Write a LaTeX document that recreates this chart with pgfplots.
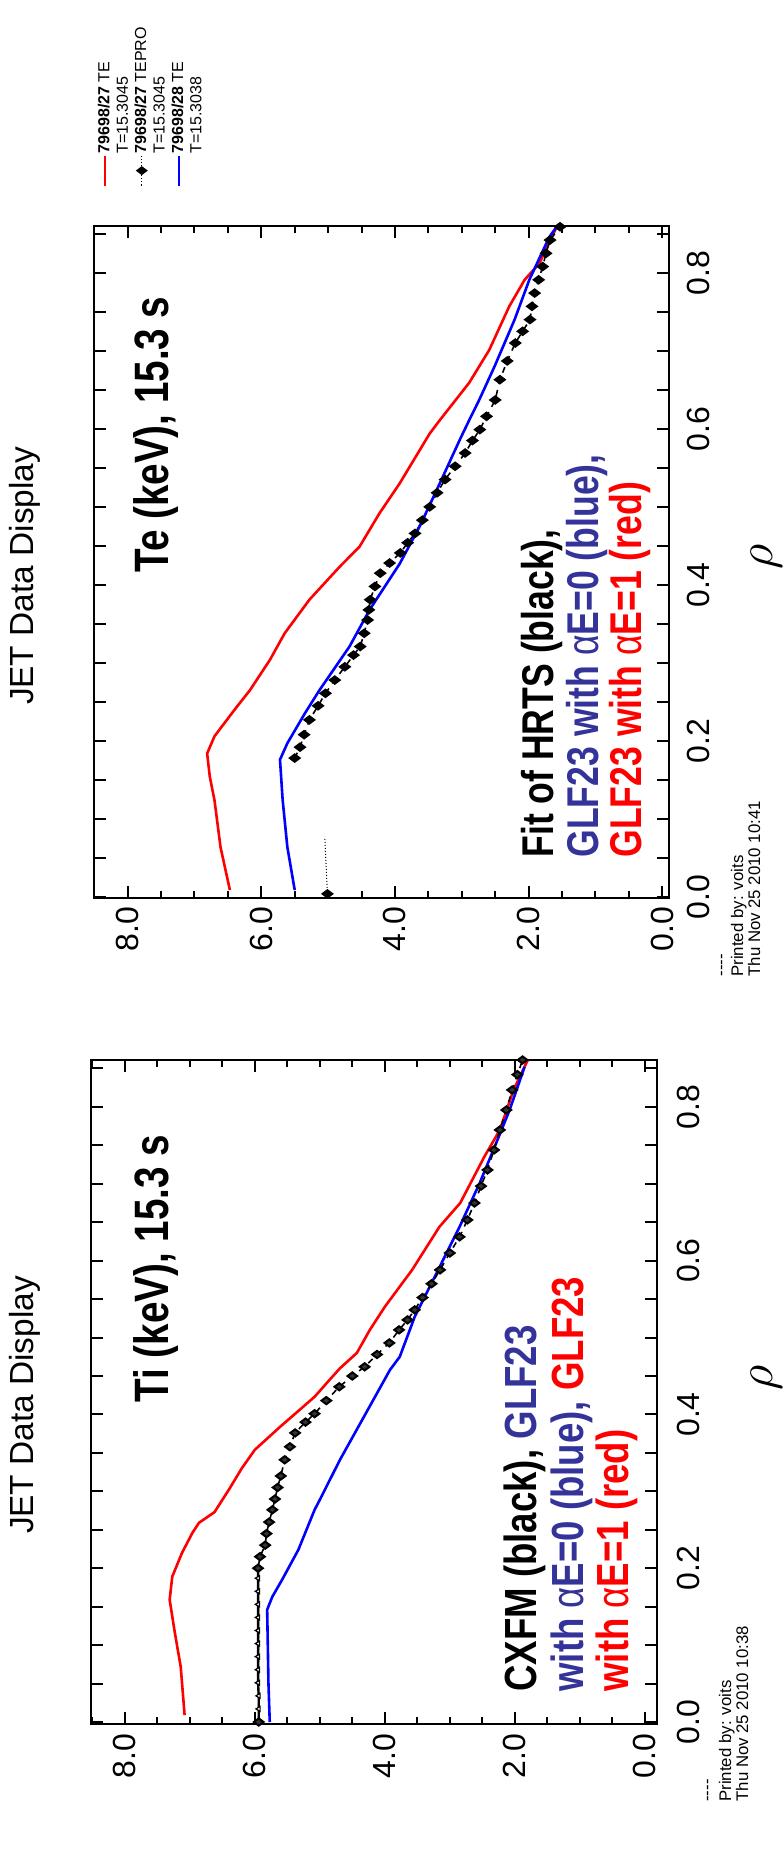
\documentclass[border=0pt]{standalone}
\usepackage{pgfplots}
\pgfplotsset{compat=1.18}
\usepackage{fontspec}
\setmainfont{Liberation Sans}
\definecolor{txtblue}{RGB}{51,51,153}
\definecolor{lnblue}{RGB}{0,0,255}
\definecolor{lnred}{RGB}{255,0,0}
\pgfplotsset{
  jet/.style={
    scale only axis, clip=false,
    axis line style={line width=1pt},
    tick style={line width=1pt, black},
    tick align=inside,
    major tick length=6pt, minor tick length=3.5pt,
    xtick={0,0.05,0.1,0.15,0.2,0.25,0.3,0.35,0.4,0.45,0.5,0.55,0.6,0.65,0.7,0.75,0.8,0.85},
    xticklabels={0.0,,,,0.2,,,,0.4,,,,0.6,,,,0.8,},
    ytick={0,2,4,6,8},
    yticklabels={0.0,2.0,4.0,6.0,8.0},
    minor ytick={0.5,1,1.5,2.5,3,3.5,4.5,5,5.5,6.5,7,7.5,8.5},
    tick label style={font=\fontsize{16}{16}\selectfont},
  },
  redc/.style={lnred, line width=1.3pt, no marks},
  bluec/.style={lnblue, line width=1.3pt, no marks},
}
\begin{document}
\begin{tikzpicture}
\begin{scope}[rotate=90, transform shape]
\path (0,0) rectangle (932.5pt,-391.5pt);
% ================= Ti panel =================
\begin{axis}[jet, at={(70.5pt,-328.25pt)}, anchor=south west,
  width=332pt, height=282.75pt,
  xmin=-0.0026, xmax=0.861, ymin=-0.18, ymax=8.52,
  yticklabel style={xshift=-1.5pt}, xticklabel style={yshift=-6.75pt}]
\addplot[redc] coordinates {(0.009,7.08) (0.072,7.14) (0.116,7.23) (0.159,7.31) (0.189,7.27) (0.220,7.12) (0.246,6.96) (0.259,6.86) (0.273,6.62) (0.302,6.40) (0.330,6.20) (0.354,6.0) (0.384,5.61) (0.406,5.31) (0.423,5.08) (0.445,4.85) (0.460,4.69) (0.480,4.43) (0.510,4.23) (0.540,4.0) (0.588,3.58) (0.644,3.16) (0.675,2.84) (0.735,2.47) (0.770,2.23) (0.822,2.02) (0.861,1.80)};
\addplot[bluec] coordinates {(0.0,5.77) (0.05,5.79) (0.10,5.80) (0.146,5.81) (0.163,5.73) (0.185,5.58) (0.224,5.33) (0.276,5.08) (0.289,5.0) (0.341,4.69) (0.423,4.15) (0.458,3.92) (0.475,3.77) (0.527,3.54) (0.593,3.15) (0.644,2.85) (0.701,2.54) (0.748,2.31) (0.796,2.08) (0.852,1.85)};
\addplot[black, line width=1.2pt, mark=triangle*, mark size=1.4pt, mark options={fill=white, draw=black, line width=0.6pt}] coordinates {(0.0,5.94) (0.017,5.94) (0.034,5.94) (0.051,5.95) (0.068,5.95) (0.085,5.95) (0.102,5.95) (0.119,5.95) (0.136,5.95) (0.153,5.95) (0.170,5.95) (0.187,5.95) (0.200,5.95)};
\addplot[black, line width=0.8pt, dashed, mark=diamond*, mark size=2.4pt, mark options={solid, fill=black!80, draw=black, line width=1pt}] coordinates {(0.0,5.94) (0.200,5.95) (0.215,5.92) (0.230,5.84) (0.245,5.82) (0.260,5.78) (0.276,5.73) (0.290,5.69) (0.305,5.65) (0.320,5.60) (0.341,5.54) (0.358,5.46) (0.376,5.38) (0.390,5.22) (0.401,5.08) (0.418,4.90) (0.436,4.70) (0.450,4.50) (0.462,4.31) (0.478,4.12) (0.493,3.93) (0.510,3.78) (0.523,3.65) (0.536,3.54) (0.552,3.42) (0.570,3.28) (0.588,3.15) (0.610,3.00) (0.631,2.85) (0.653,2.73) (0.675,2.62) (0.697,2.52) (0.718,2.42) (0.744,2.32) (0.770,2.23) (0.796,2.13) (0.822,2.04) (0.842,1.96) (0.861,1.88)};
\end{axis}
% ================= Te panel =================
\begin{axis}[jet, at={(483.5pt,-334.5pt)}, anchor=south west,
  width=336pt, height=287.75pt,
  xmin=-0.0013, xmax=0.86, ymin=-0.1, ymax=8.51,
  yticklabel style={xshift=-1pt}, xticklabel style={yshift=-5.5pt},
  legend image code/.code={\draw[mark repeat=2,mark phase=2,#1] plot coordinates {(0pt,0pt) (7.5pt,0pt) (15pt,0pt)};},
  legend style={draw=none, fill=none, at={(axis description cs:1.058,0.996)}, anchor=north west,
    inner sep=0pt, font=\fontsize{8}{8}\selectfont, row sep=0.4pt,
    nodes={inner sep=0.6pt, text height=6pt, text depth=1.6pt}},
  legend cell align=left]
\addplot[redc, forget plot] coordinates {(0.009,6.47) (0.064,6.61) (0.124,6.70) (0.154,6.77) (0.184,6.81) (0.206,6.70) (0.240,6.40) (0.265,6.17) (0.304,5.87) (0.338,5.65) (0.381,5.28) (0.423,4.83) (0.449,4.53) (0.492,4.23) (0.530,3.93) (0.594,3.48) (0.611,3.33) (0.659,2.89) (0.701,2.59) (0.757,2.29) (0.791,2.06) (0.812,1.84) (0.859,1.58)};
\addplot[black, line width=0.5pt, densely dotted, forget plot, mark=diamond*, mark indices={1}, mark size=2.8pt, mark options={solid, fill=black}] coordinates {(0.004,5.01) (0.04,5.03) (0.077,5.05)};
\addplot[black, line width=0.8pt, dashed, forget plot, mark=diamond*, mark size=2.6pt, mark options={solid, fill=black}] coordinates {(0.178,5.50) (0.192,5.42) (0.208,5.36) (0.227,5.28) (0.245,5.15) (0.261,5.04) (0.278,4.90) (0.295,4.75) (0.310,4.62) (0.321,4.52) (0.338,4.46) (0.355,4.41) (0.368,4.39) (0.381,4.37) (0.398,4.30) (0.415,4.22) (0.428,4.08) (0.441,3.92) (0.454,3.81) (0.466,3.70) (0.483,3.59) (0.500,3.48) (0.518,3.37) (0.535,3.25) (0.552,3.10) (0.569,2.95) (0.585,2.84) (0.599,2.73) (0.616,2.63) (0.637,2.50) (0.663,2.43) (0.687,2.32) (0.710,2.20) (0.725,2.09) (0.740,1.98) (0.757,1.95) (0.774,1.91) (0.791,1.85) (0.808,1.79) (0.825,1.74) (0.842,1.68) (0.859,1.53)};
\addplot[bluec, forget plot] coordinates {(0.009,5.50) (0.064,5.61) (0.124,5.68) (0.176,5.72) (0.197,5.61) (0.235,5.35) (0.265,5.13) (0.321,4.68) (0.368,4.38) (0.427,3.93) (0.475,3.63) (0.530,3.33) (0.586,3.03) (0.611,2.89) (0.637,2.74) (0.680,2.51) (0.740,2.21) (0.791,1.99) (0.846,1.69) (0.859,1.58)};
\addlegendimage{lnred, line width=1pt}
\addlegendentry{\textbf{79698/27} TE}
\addlegendimage{empty legend}
\addlegendentry{T=15.3045}
\addlegendimage{black, densely dotted, line width=0.6pt, mark=diamond*, mark size=2.5pt, mark options={solid, fill=black}}
\addlegendentry{\textbf{79698/27} TEPRO}
\addlegendimage{empty legend}
\addlegendentry{T=15.3045}
\addlegendimage{lnblue, line width=1pt}
\addlegendentry{\textbf{79698/28} TE}
\addlegendimage{empty legend}
\addlegendentry{T=15.3038}
\end{axis}
% ================= texts =================
\node[anchor=base, inner sep=0, font=\fontsize{16.7}{16.7}\selectfont] at (230pt,-16.8pt) {JET Data Display};
\node[anchor=base, inner sep=0, font=\fontsize{16.7}{16.7}\selectfont] at (644.5pt,-16.8pt) {JET Data Display};
\node[anchor=base west, inner sep=0, font=\fontsize{19.3}{19.3}\selectfont\bfseries] at (231pt,-84pt) {\scalebox{1}[1.25]{Ti (keV), 15.3 s}};
\node[anchor=base west, inner sep=0, font=\fontsize{19.3}{19.3}\selectfont\bfseries] at (646pt,-84pt) {\scalebox{1}[1.25]{Te (keV), 15.3 s}};
\node[anchor=base west, inner sep=0, font=\fontsize{18.3}{18.3}\selectfont\bfseries] at (86.5pt,-268pt) {\scalebox{1}[1.23]{CXFM (black), \textcolor{txtblue}{GLF23}}};
\node[anchor=base west, inner sep=0, font=\fontsize{18.3}{18.3}\selectfont\bfseries] at (86.5pt,-291.5pt) {\scalebox{1}[1.23]{\textcolor{txtblue}{with \textmd{α}E=0 (blue),} \textcolor{lnred}{GLF23}}};
\node[anchor=base west, inner sep=0, font=\fontsize{18.3}{18.3}\selectfont\bfseries] at (86.5pt,-314.25pt) {\scalebox{1}[1.23]{\textcolor{lnred}{with \textmd{α}E=1 (red)}}};
\node[anchor=base west, inner sep=0, font=\fontsize{17.8}{17.8}\selectfont\bfseries] at (503.5pt,-276.75pt) {\scalebox{1}[1.25]{Fit of HRTS (black),}};
\node[anchor=base west, inner sep=0, font=\fontsize{17.8}{17.8}\selectfont\bfseries] at (503.5pt,-299.25pt) {\scalebox{1}[1.25]{\textcolor{txtblue}{GLF23 with \textmd{α}E=0 (blue),}}};
\node[anchor=base west, inner sep=0, font=\fontsize{17.8}{17.8}\selectfont\bfseries] at (503.5pt,-320.5pt) {\scalebox{1}[1.25]{\textcolor{lnred}{GLF23 with \textmd{α}E=1 (red)}}};
\node[anchor=center, inner sep=0, font=\fontsize{25}{25}\selectfont] at (243.5pt,-383.5pt) {$\rho$};
\node[anchor=center, inner sep=0, font=\fontsize{25}{25}\selectfont] at (654pt,-383.5pt) {$\rho$};
\node[anchor=base west, inner sep=0, font=\fontsize{8.4}{8.4}\selectfont] at (31.5pt,-356pt) {-{}-{}-{}-};
\node[anchor=base west, inner sep=0, font=\fontsize{8.4}{8.4}\selectfont] at (31.5pt,-365.5pt) {Printed by: voits};
\node[anchor=base west, inner sep=0, font=\fontsize{8.4}{8.4}\selectfont] at (31.5pt,-374pt) {Thu Nov 25 2010 10:38};
\node[anchor=base west, inner sep=0, font=\fontsize{8.4}{8.4}\selectfont] at (444pt,-363pt) {-{}-{}-{}-};
\node[anchor=base west, inner sep=0, font=\fontsize{8.4}{8.4}\selectfont] at (444pt,-371.5pt) {Printed by: voits};
\node[anchor=base west, inner sep=0, font=\fontsize{8.4}{8.4}\selectfont] at (444pt,-380pt) {Thu Nov 25 2010 10:41};
\pgfresetboundingbox
\useasboundingbox (0,0) rectangle (932.5pt,-391.5pt);
\end{scope}
\end{tikzpicture}
\end{document}
